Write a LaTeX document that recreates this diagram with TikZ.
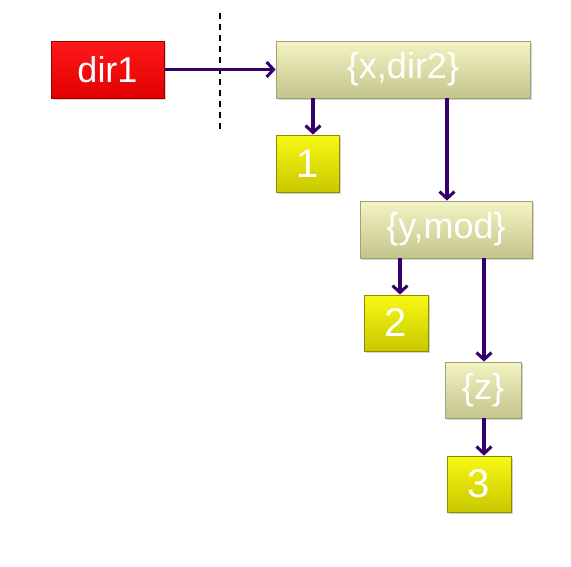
\documentclass[tikz,border=0pt]{standalone}
\usepackage{fontspec}
\setmainfont{Liberation Sans}
\usetikzlibrary{arrows.meta,shadows}
\definecolor{arrcol}{HTML}{35006E}
\tikzset{
  box/.style={draw, line width=0.8pt, inner sep=0pt, text=white, font=\fontsize{36}{36}\selectfont,
    drop shadow={shadow xshift=1.5pt, shadow yshift=-1.5pt, opacity=0.35}},
  redbox/.style={box, top color=red!90!white, bottom color=red!88!black, draw=red!60!black},
  khakibox/.style={box, top color={rgb,255:red,244;green,244;blue,196}, bottom color={rgb,255:red,196;green,196;blue,140}, draw={rgb,255:red,160;green,160;blue,112}},
  yelbox/.style={box, top color={rgb,255:red,248;green,248;blue,20}, bottom color={rgb,255:red,200;green,200;blue,0}, draw={rgb,255:red,140;green,140;blue,0}, font=\fontsize{40}{40}\selectfont},
  arr/.style={draw=arrcol, line width=3.2pt, -{Straight Barb[length=7pt,width=15pt,line width=3pt]}}
}
\begin{document}
\begin{tikzpicture}[x=1pt,y=-1pt]
\useasboundingbox (0,0) rectangle (571,566);
\node[redbox, minimum width=113pt, minimum height=57pt] (d1) at (107.5,69.5) {dir1};
\node[khakibox, minimum width=254pt, minimum height=57pt] (x1) at (403,69.5) {\{x,dir2\}};
\node[yelbox, minimum width=63pt, minimum height=57pt] (n1) at (307.5,163.5) {1};
\node[khakibox, minimum width=172pt, minimum height=57pt] (y1) at (446,229.5) {\{y,mod\}};
\node[yelbox, minimum width=64pt, minimum height=56pt] (n2) at (396,323) {2};
\node[khakibox, minimum width=76pt, minimum height=56pt] (z1) at (483,390) {\{z\}};
\node[yelbox, minimum width=64pt, minimum height=56pt] (n3) at (479,484) {3};
\coordinate (dtop) at (220,13);
\coordinate (dbot) at (220,133);
\draw[dashed, line width=1.6pt, dash pattern=on 6pt off 5pt] (dtop) -- (dbot);
\draw[arr] (d1.east) -- (x1.west);
\draw[arr] (x1.south -| 313,0) -- (n1.north -| 313,0);
\draw[arr] (x1.south -| 447,0) -- (y1.north -| 447,0);
\draw[arr] (y1.south -| 400,0) -- (n2.north -| 400,0);
\draw[arr] (y1.south -| 484,0) -- (z1.north -| 484,0);
\draw[arr] (z1.south -| 484,0) -- (n3.north -| 484,0);
\end{tikzpicture}
\end{document}
